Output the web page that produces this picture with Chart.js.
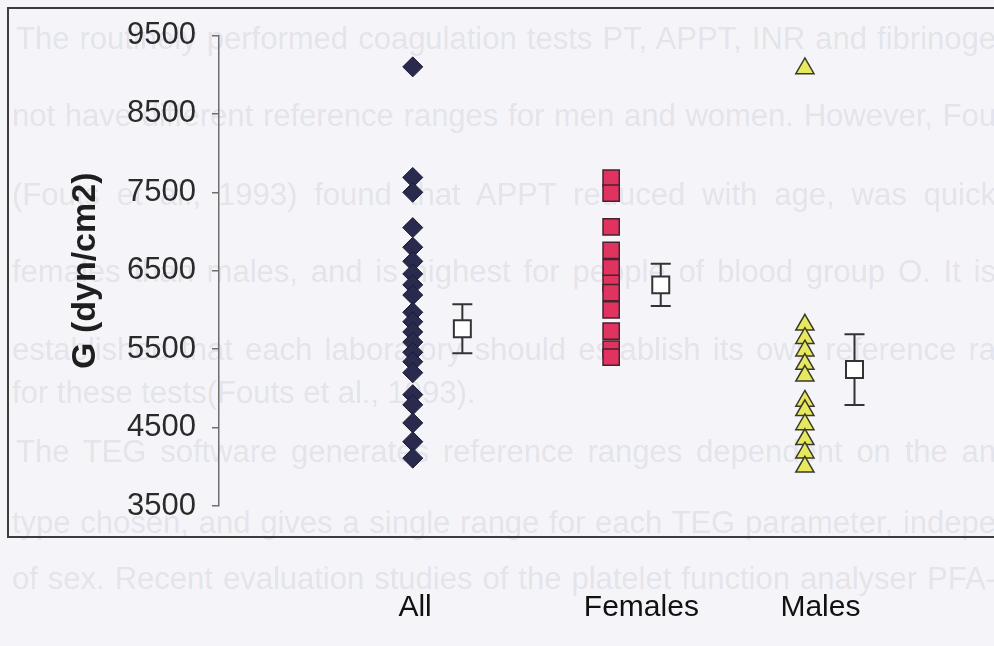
<!DOCTYPE html>
<html>
<head>
<meta charset="utf-8">
<script src="https://cdn.jsdelivr.net/npm/chart.js@4/dist/chart.umd.min.js"></script>
<style>
  html, body { margin:0; padding:0; background:#f5f5f9; width:994px; height:646px; overflow:hidden; }
  #wrap { position:relative; width:994px; height:646px; overflow:hidden; }
  .bg { position:absolute; left:12px; width:984px; font-family:"Liberation Sans", Arial, sans-serif; font-size:31px; line-height:34px;
        color:rgba(110,110,130,0.15); white-space:nowrap; text-align:justify; text-align-last:justify; }
  canvas { position:absolute; left:0; top:0; }
</style>
</head>
<body>
<div id="wrap">
  <div class="bg" style="top:22px;left:16px;width:980px">The routinely performed coagulation tests PT, APPT, INR and fibrinoge</div>
  <div class="bg" style="top:99px">not have different reference ranges for men and women. However, Fou</div>
  <div class="bg" style="top:178px">(Fouts et al., 1993) found that APPT reduced with age, was quick</div>
  <div class="bg" style="top:255px">females than males, and is highest for people of blood group O. It is</div>
  <div class="bg" style="top:333px">established that each laboratory should establish its own reference ra</div>
  <div class="bg" style="top:376px;width:auto;text-align-last:left">for these tests(Fouts et al., 1993).</div>
  <div class="bg" style="top:435px;left:16px;width:980px">The TEG software generates reference ranges dependent on the an</div>
  <div class="bg" style="top:506px">type chosen, and gives a single range for each TEG parameter, indepe</div>
  <div class="bg" style="top:562px">of sex. Recent evaluation studies of the platelet function analyser PFA-</div>
  <canvas id="c" width="994" height="646"></canvas>
</div>
<script>
// ---- data ----
const categories = ["All", "Females", "Males"];
const allValues = [9100, 7690, 7500, 7050, 6800, 6620, 6460, 6320, 6190, 5970, 5850, 5720, 5590, 5460, 5340, 5200, 4920, 4790, 4560, 4320, 4110];
const femaleValues = [7680, 7490, 7060, 6760, 6540, 6340, 6220, 6000, 5730, 5500, 5400];
const maleValues = [9080, 5810, 5640, 5480, 5310, 5160, 4840, 4720, 4540, 4350, 4180, 4000];
const means = [5760, 6320, 5240];
const errors = [313, 270, 451];
const yTicks = [3500, 4500, 5500, 6500, 7500, 8500, 9500];

// ---- layout (positions on the hidden x scale) ----
const catX = [2.5, 5.06, 7.56];
const meanOffset = 0.64;
const labelX = [2.53, 5.45, 7.76];

const pts = (vals, i) => vals.map(v => ({x: catX[i], y: v}));

const decor = {
  id: 'decor',
  beforeDraw(chart) {
    const ctx = chart.ctx;
    ctx.save();
    ctx.strokeStyle = '#3c3c3c';
    ctx.lineWidth = 2;
    ctx.strokeRect(8, 8, 1010, 529);
    ctx.restore();
  },
  beforeDatasetsDraw(chart) {
    const xs = chart.scales.x, ys = chart.scales.y, ctx = chart.ctx;
    ctx.save();
    ctx.strokeStyle = '#333';
    ctx.lineWidth = 2;
    means.forEach((m, i) => {
      const px = xs.getPixelForValue(catX[i] + meanOffset);
      const t = ys.getPixelForValue(m + errors[i]);
      const b = ys.getPixelForValue(m - errors[i]);
      ctx.beginPath();
      ctx.moveTo(px, t); ctx.lineTo(px, b);
      ctx.moveTo(px - 10, t); ctx.lineTo(px + 10, t);
      ctx.moveTo(px - 10, b); ctx.lineTo(px + 10, b);
      ctx.stroke();
    });
    ctx.restore();
  },
  afterDraw(chart) {
    const xs = chart.scales.x, ctx = chart.ctx;
    ctx.save();
    ctx.fillStyle = '#111';
    ctx.font = '30px "Liberation Sans", Arial, sans-serif';
    ctx.textAlign = 'center';
    ctx.textBaseline = 'middle';
    categories.forEach((c, i) => ctx.fillText(c, xs.getPixelForValue(labelX[i]), 608));
    ctx.restore();
  }
};

new Chart(document.getElementById('c'), {
  type: 'scatter',
  data: {
    datasets: [
      { label: 'All', data: pts(allValues, 0), pointStyle: 'rectRot', pointRadius: 10,
        backgroundColor: '#2a2a4e', borderColor: '#1a1a2e', borderWidth: 1 },
      { label: 'Females', data: pts(femaleValues, 1), pointStyle: 'rect', pointRadius: 11.5,
        backgroundColor: '#e0335f', borderColor: '#46222f', borderWidth: 1.5 },
      { label: 'Males', data: pts(maleValues, 2), pointStyle: 'triangle', pointRadius: 10.5,
        backgroundColor: '#e8e85e', borderColor: '#3a3a2c', borderWidth: 1.5 },
      { label: 'Mean', data: means.map((m, i) => ({x: catX[i] + meanOffset, y: m})), pointStyle: 'rect', pointRadius: 12,
        backgroundColor: '#ffffff', borderColor: '#333', borderWidth: 2 }
    ]
  },
  options: {
    responsive: false,
    animation: false,
    devicePixelRatio: 1,
    layout: { autoPadding: false, padding: { top: 35.5, bottom: 140, left: 0, right: 0 } },
    plugins: { legend: { display: false }, tooltip: { enabled: false } },
    scales: {
      x: { type: 'linear', min: 0, max: 10, display: false },
      y: {
        type: 'linear', min: 3500, max: 9500,
        afterFit(scale) { scale.width = 219; },
        afterBuildTicks(scale) { scale.ticks = yTicks.map(v => ({value: v})); },
        ticks: { color: '#2a2a2a', padding: 16, callback: v => String(v),
                 font: { family: '"Liberation Sans", Arial, sans-serif', size: 31 } },
        grid: { drawOnChartArea: false, drawTicks: true, tickLength: 7, color: '#6e6e6e', lineWidth: 1.5 },
        border: { display: true, color: '#6e6e6e', width: 1.5 },
        title: { display: true, text: 'G (dyn/cm2)', color: '#1e1e1e', padding: { top: 65, bottom: 0 },
                 font: { family: '"Liberation Sans", Arial, sans-serif', size: 34, weight: 'bold' } }
      }
    }
  },
  plugins: [decor]
});
</script>
</body>
</html>
